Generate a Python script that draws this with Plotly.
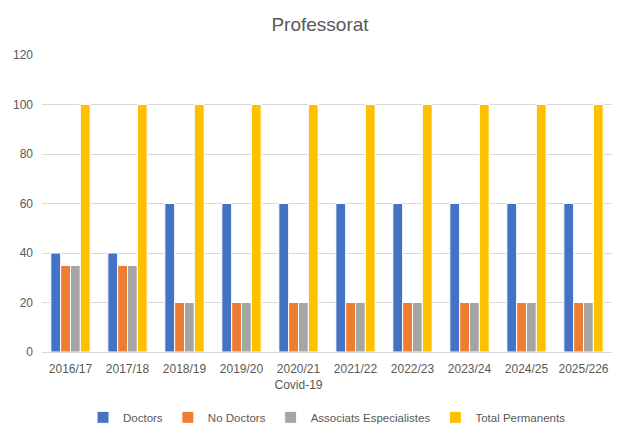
import plotly.graph_objects as go

# chart data
courses = ["2016/17", "2017/18", "2018/19", "2019/20", "2020/21<br>Covid-19",
           "2021/22", "2022/23", "2023/24", "2024/25", "2025/226"]
doctors = [40, 40, 60, 60, 60, 60, 60, 60, 60, 60]
no_doctors = [35, 35, 20, 20, 20, 20, 20, 20, 20, 20]
associats = [35, 35, 20, 20, 20, 20, 20, 20, 20, 20]
total_perm = [100, 100, 100, 100, 100, 100, 100, 100, 100, 100]

series = [
    ("Doctors", doctors, "#4472C4"),
    ("No Doctors", no_doctors, "#ED7D31"),
    ("Associats Especialistes", associats, "#A5A5A5"),
    ("Total Permanents", total_perm, "#FFC000"),
]

fig = go.Figure()
for name, vals, col in series:
    fig.add_trace(go.Bar(x=courses, y=vals, name=name,
                         marker=dict(color=col, line=dict(color="white", width=1))))

# margins tuned so the plot area sits where the original one does
fig.update_layout(
    width=624, height=436,
    margin=dict(l=34, r=20, t=47, b=89),
    paper_bgcolor="white", plot_bgcolor="white",
    font=dict(family="Liberation Sans, Arial, sans-serif", size=12, color="#595959"),
    title=dict(text="Professorat", x=0.5, xanchor="center", y=1 - 16 / 436, yanchor="middle",
               font=dict(size=19, color="#595959")),
    barmode="group", bargap=0.31, bargroupgap=0,
    legend=dict(orientation="h", x=0.5, xanchor="center", y=-0.22, yanchor="middle",
                font=dict(size=11.5, color="#595959"), itemwidth=30, tracegroupgap=0),
    xaxis=dict(showgrid=False, showline=True, linecolor="#D9D9D9", ticks="",
               ticklabelstandoff=6, tickfont=dict(size=12), automargin=False),
    yaxis=dict(range=[0, 120], dtick=20, showgrid=True, gridcolor="#D9D9D9",
               zeroline=False, showline=False, ticks="", ticklabelstandoff=8,
               tickfont=dict(size=12), automargin=False),
)

fig.write_html("out.html")
